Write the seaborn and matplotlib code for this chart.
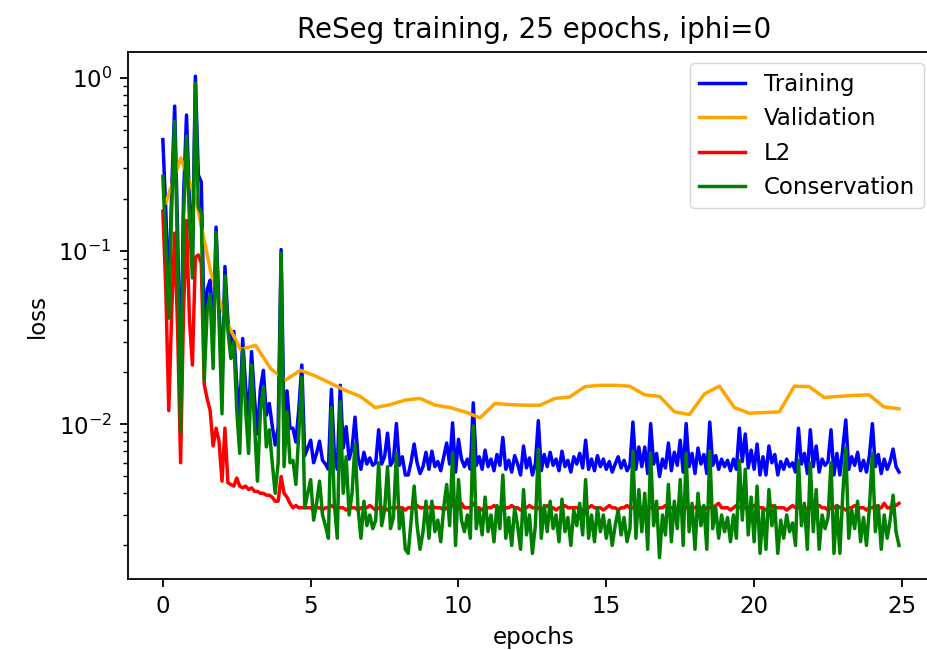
import numpy as np
import matplotlib
matplotlib.use("Agg")
import matplotlib.pyplot as plt
import seaborn as sns

# Loss values are stored in units of 1e-3; ten logged steps per epoch.
steps_per_epoch = 10

training_loss = [
    440, 170, 53, 225, 687, 125, 15, 205, 610, 190,
    92, 1022, 275, 250, 35, 60, 68, 28.5, 137.5, 48,
    16.2, 81.5, 39.6, 28.5, 34.4, 16.9, 11.2, 31.3, 16.4, 11,
    26.3, 14.1, 8.8, 16, 20.5, 11.3, 13.2, 9.8, 7.6, 9.6,
    102, 9.7, 15.6, 9.5, 9.5, 7.9, 12.3, 22, 6.6, 7.3,
    8.1, 6.0, 6.8, 8.0, 6.2, 5.9, 5.5, 15.9, 6.8, 5.5,
    16.8, 7.3, 9.7, 6.3, 7.3, 11.0, 6.5, 5.5, 6.9, 5.9,
    6.4, 5.8, 6.0, 9.3, 5.9, 6.5, 8.9, 5.8, 6.2, 10.1,
    5.8, 6.5, 5.1, 5.1, 6.1, 7.7, 6.0, 5.2, 5.7, 6.9,
    5.5, 7.0, 5.7, 6.1, 5.4, 6.5, 7.8, 5.9, 10.2, 5.3,
    8.2, 6.3, 5.7, 6.3, 5.5, 13.3, 5.8, 6.5, 5.5, 7.1,
    5.7, 6.3, 5.4, 6.7, 5.8, 8.4, 5.5, 6.2, 5.3, 6.6,
    5.9, 5.1, 7.5, 5.6, 6.4, 5.1, 5.9, 10.5, 5.4, 6.7,
    5.7, 6.9, 5.8, 6.3, 5.4, 7.0, 5.7, 6.2, 5.3, 6.5,
    5.9, 6.8, 5.6, 8.1, 5.5, 6.3, 5.4, 6.6, 5.7, 6.3,
    5.5, 6.1, 5.3, 5.9, 6.5, 5.6, 6.2, 5.4, 5.8, 10.3,
    5.5, 7.4, 5.7, 7.4, 5.2, 10.1, 5.9, 6.8, 5.0, 6.3,
    5.6, 7.8, 5.4, 6.9, 5.8, 8.1, 5.3, 10.1, 5.7, 6.8,
    5.2, 7.3, 5.9, 6.7, 5.2, 10.3, 5.8, 6.6, 5.5, 6.3,
    5.7, 6.2, 5.4, 6.3, 5.5, 9.5, 6.1, 8.8, 5.6, 7.1,
    5.5, 7.7, 5.1, 6.5, 5.1, 7.5, 6.0, 6.7, 5.1, 6.1,
    5.5, 6.3, 5.7, 6.0, 5.3, 9.5, 5.9, 6.8, 5.2, 9.3,
    5.7, 7.5, 5.3, 6.3, 5.8, 6.1, 9.3, 5.1, 6.8, 5.1,
    7.3, 10.6, 5.5, 6.5, 5.8, 6.9, 5.4, 6.2, 5.3, 6.6,
    10.1, 5.7, 6.7, 5.2, 6.3, 5.5, 6.1, 7.2, 5.7, 5.3,
]

l2_loss = [
    170, 60, 12, 45, 127, 35, 6, 45, 150, 40,
    22, 92, 95, 85, 17, 14, 12, 7.5, 9.5, 8,
    4.7, 9.5, 4.6, 4.5, 4.4, 4.9, 4.4, 4.3, 4.4, 4.2,
    4.3, 4.1, 4.1, 4.0, 4.0, 3.9, 3.9, 3.8, 3.6, 3.6,
    5.0, 4.0, 3.8, 3.5, 3.3, 3.4, 3.3, 3.3, 3.3, 3.3,
    3.3, 3.2, 3.3, 3.3, 3.2, 3.3, 3.3, 3.4, 3.3, 3.3,
    3.3, 3.3, 3.2, 3.3, 3.3, 3.3, 3.2, 3.3, 3.3, 3.3,
    3.4, 3.3, 3.2, 3.3, 3.3, 3.3, 3.2, 3.3, 3.3, 3.3,
    3.3, 3.3, 3.2, 3.3, 3.3, 3.3, 3.4, 3.3, 3.3, 3.3,
    3.3, 3.4, 3.3, 3.3, 3.3, 3.2, 3.3, 3.3, 3.4, 3.3,
    3.4, 3.5, 3.3, 3.3, 3.3, 3.5, 3.3, 3.3, 3.2, 3.3,
    3.3, 3.3, 3.4, 3.3, 3.3, 3.2, 3.3, 3.3, 3.4, 3.3,
    3.3, 3.2, 3.3, 3.3, 3.4, 3.3, 3.3, 3.3, 3.2, 3.3,
    3.4, 3.3, 3.3, 3.2, 3.3, 3.3, 3.4, 3.3, 3.3, 3.3,
    3.3, 3.3, 3.2, 3.3, 3.3, 3.4, 3.3, 3.3, 3.3, 3.2,
    3.3, 3.4, 3.3, 3.3, 3.2, 3.3, 3.3, 3.4, 3.3, 3.3,
    3.3, 3.2, 3.3, 3.4, 3.3, 3.3, 3.3, 3.2, 3.3, 3.3,
    3.4, 3.3, 3.3, 3.3, 3.2, 3.3, 3.4, 3.3, 3.3, 3.3,
    3.3, 3.4, 3.3, 3.2, 3.3, 3.3, 3.3, 3.4, 3.5, 3.3,
    3.3, 3.3, 3.2, 3.3, 3.4, 3.3, 3.3, 3.3, 3.2, 3.3,
    3.4, 3.3, 3.3, 3.3, 3.2, 3.3, 3.4, 3.3, 3.3, 3.3,
    3.3, 3.2, 3.3, 3.4, 3.3, 3.3, 3.3, 3.2, 3.3, 3.3,
    3.3, 3.3, 3.4, 3.3, 3.3, 3.2, 3.3, 3.3, 3.4, 3.3,
    3.3, 3.2, 3.3, 3.3, 3.4, 3.3, 3.3, 3.3, 3.2, 3.3,
    3.3, 3.4, 3.3, 3.3, 3.5, 3.3, 3.3, 3.5, 3.4, 3.5,
]

conservation_loss = [
    270, 110, 41, 180, 560, 90, 9, 160, 460, 150,
    70, 930, 180, 165, 18, 46, 56, 21, 128, 40,
    11.5, 72, 35, 24, 30, 12, 6.8, 27, 12, 6.8,
    22, 10, 4.7, 12, 16.5, 7.4, 9.3, 6, 4, 6,
    97, 5.7, 11.8, 6, 6.2, 4.5, 9, 18.7, 3.3, 4,
    4.8, 2.8, 3.5, 4.7, 3.0, 2.6, 2.2, 12.5, 3.5, 2.2,
    13.5, 4, 6.5, 3, 4, 7.7, 3.3, 2.2, 3.6, 2.6,
    3.0, 2.5, 2.8, 6, 2.6, 3.2, 5.7, 2.5, 2.9, 6.8,
    2.5, 3.2, 1.9, 1.8, 2.8, 4.4, 2.6, 1.9, 2.4, 3.6,
    2.2, 3.6, 2.4, 2.8, 2.1, 3.3, 4.5, 2.6, 6.8, 2.0,
    4.8, 2.8, 2.4, 3.0, 2.2, 9.8, 2.5, 3.2, 2.3, 3.8,
    2.4, 3.0, 2.1, 3.4, 2.5, 5.1, 2.2, 2.9, 2.0, 3.3,
    2.6, 1.9, 4.2, 2.3, 3.0, 1.8, 2.6, 7.2, 2.2, 3.4,
    2.4, 3.6, 2.5, 3.0, 2.1, 3.7, 2.4, 2.9, 2.0, 3.2,
    2.6, 3.5, 2.3, 4.8, 2.2, 3.0, 2.1, 3.3, 2.4, 3.0,
    2.2, 2.8, 2.0, 2.6, 3.2, 2.3, 2.9, 2.1, 2.5, 7.0,
    2.2, 4.2, 2.4, 4.0, 1.9, 6.8, 2.6, 3.6, 1.7, 3.0,
    2.3, 4.5, 2.1, 3.6, 2.5, 4.8, 2.0, 6.8, 2.4, 3.5,
    1.9, 4.0, 2.6, 3.4, 1.9, 7.0, 2.5, 3.3, 2.2, 3.0,
    2.4, 2.9, 2.1, 3.0, 2.2, 6.2, 2.8, 5.5, 2.3, 3.8,
    2.1, 4.4, 1.8, 3.2, 1.9, 4.2, 2.6, 3.4, 1.8, 2.8,
    2.2, 3.0, 2.4, 2.7, 2.0, 6.2, 2.6, 3.5, 1.9, 6.0,
    2.4, 4.2, 1.9, 3.0, 2.5, 2.9, 6.0, 1.8, 3.4, 1.8,
    4.0, 7.3, 2.2, 3.2, 2.5, 3.6, 2.1, 2.9, 2.0, 3.3,
    6.8, 2.4, 3.4, 1.9, 3.0, 2.2, 2.8, 3.9, 2.4, 2.0,
]

# Validation is evaluated about twice per epoch.
validation_loss = [
    190, 345, 200, 76, 40, 27, 28.6, 21, 18, 20.5,
    19, 17.3, 15.7, 14.5, 12.5, 13.0, 13.8, 14.1, 12.9, 12.5,
    11.8, 10.9, 13.2, 13.0, 12.9, 12.9, 14.1, 14.4, 16.5, 16.8,
    16.8, 16.6, 14.8, 14.5, 11.8, 11.4, 15.0, 16.6, 12.5, 11.6,
    11.7, 11.8, 16.6, 16.5, 14.3, 14.5, 14.7, 14.8, 12.6, 12.3,
]
validation_first, validation_last = 0.1, 24.9

train_epochs = np.arange(len(training_loss)) / steps_per_epoch
val_epochs = np.linspace(validation_first, validation_last, len(validation_loss))

milli = 1e-3
series = [
    ("Training", train_epochs, np.asarray(training_loss) * milli, "blue"),
    ("Validation", val_epochs, np.asarray(validation_loss) * milli, "orange"),
    ("L2", train_epochs, np.asarray(l2_loss) * milli, "red"),
    ("Conservation", train_epochs, np.asarray(conservation_loss) * milli, "green"),
]

plt.rcParams.update({
    "font.family": ["DejaVu Sans"],
    "axes.linewidth": 1.3,
    "xtick.major.size": 5.8,
    "ytick.major.size": 5.8,
    "ytick.minor.size": 3.3,
    "xtick.major.width": 1.3,
    "ytick.major.width": 1.3,
    "ytick.minor.width": 1.0,
    "xtick.major.pad": 5.8,
    "ytick.major.pad": 5.8,
})

fig = plt.figure(figsize=(9.28, 6.5), dpi=100)
# The plotting area runs past the right edge of the canvas.
ax = fig.add_axes([0.1379, 0.1092, 0.885, 0.8108])

for name, xs, ys, color in series:
    sns.lineplot(x=xs, y=ys, color=color, label=name, linewidth=2.5,
                 estimator=None, sort=False, ax=ax, legend=False)

ax.set_yscale("log")
ax.set_xlim(-1.18, 26.6)
ax.set_ylim(1.28e-3, 1.41)
ax.set_xticks([0, 5, 10, 15, 20, 25])
ax.tick_params(axis="both", labelsize=16.5)

ax.set_title("ReSeg training, 25 epochs, iphi=0", fontsize=20, pad=10,
             x=0.494)
ax.set_xlabel("epochs", fontsize=16.5, labelpad=6.6)
ax.xaxis.set_label_coords(0.494, -0.09)
ax.set_ylabel("loss", fontsize=16.5, labelpad=6.6)

ax.legend(loc="upper right", fontsize=16.5,
          bbox_to_anchor=(1.008, 0.92), bbox_transform=fig.transFigure)

fig.savefig("out.png", dpi=100)
